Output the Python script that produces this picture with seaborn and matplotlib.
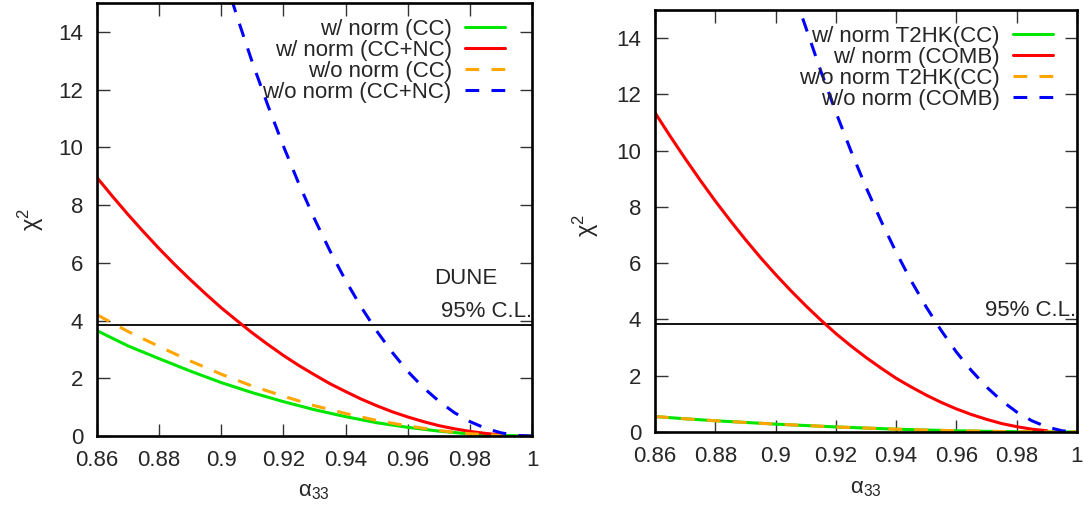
import numpy as np
import pandas as pd
import matplotlib
matplotlib.use("Agg")
import matplotlib.pyplot as plt
import seaborn as sns
from matplotlib.ticker import FuncFormatter
import matplotlib.transforms as mtransforms

# ---------------- data ----------------
alpha = [0.86, 0.87, 0.88, 0.89, 0.90, 0.91, 0.92, 0.93, 0.94, 0.95, 0.96, 0.97, 0.98, 0.99, 1.00]
alpha_fine = [0.86, 0.865, 0.87, 0.875, 0.88, 0.885, 0.89, 0.895, 0.90, 0.905, 0.91, 0.915,
              0.92, 0.925, 0.93, 0.935, 0.94, 0.945, 0.95, 0.955, 0.96, 0.965, 0.97, 0.975,
              0.98, 0.985, 0.99, 0.995, 1.00]

# Left panel (DUNE)
dune_wnorm_cc = [3.65, 3.12, 2.68, 2.25, 1.85, 1.50, 1.19, 0.91, 0.67, 0.46, 0.30, 0.17, 0.07, 0.02, 0.0]
dune_wnorm_ccnc = [8.95, 8.30, 7.67, 7.07, 6.49, 5.94, 5.42, 4.92, 4.44, 4.00, 3.57, 3.17,
                   2.79, 2.44, 2.12, 1.81, 1.54, 1.28, 1.05, 0.84, 0.66, 0.50, 0.36, 0.25,
                   0.16, 0.09, 0.04]
dune_wonorm_cc = [4.20, 3.62, 3.10, 2.60, 2.14, 1.73, 1.38, 1.05, 0.78, 0.54, 0.35, 0.19, 0.08, 0.02, 0.0]
alpha_blue_left = [0.90, 0.905, 0.91, 0.915, 0.92, 0.925, 0.93, 0.935, 0.94, 0.945, 0.95,
                   0.955, 0.96, 0.965, 0.97, 0.975, 0.98, 0.985, 0.99, 0.995, 1.00]
dune_wonorm_ccnc = [16.3, 14.55, 12.94, 11.45, 10.04, 8.73, 7.52, 6.41, 5.39, 4.47, 3.64,
                    2.90, 2.24, 1.68, 1.21, 0.81, 0.50, 0.27, 0.11, 0.02, 0.0]

# Right panel (combined)
t2hk_wnorm_cc = [0.55, 0.47, 0.40, 0.34, 0.28, 0.23, 0.18, 0.14, 0.10, 0.07, 0.045, 0.025, 0.01, 0.003, 0.0]
comb_wnorm = [11.35, 10.52, 9.72, 8.95, 8.21, 7.51, 6.84, 6.20, 5.60, 5.03, 4.49, 3.98,
              3.50, 3.06, 2.65, 2.27, 1.91, 1.60, 1.31, 1.05, 0.82, 0.62, 0.45, 0.30,
              0.19, 0.10, 0.045]
t2hk_wonorm_cc = [0.55, 0.47, 0.40, 0.34, 0.28, 0.23, 0.18, 0.14, 0.10, 0.07, 0.045, 0.025, 0.01, 0.003, 0.0]
alpha_blue_right = [0.909, 0.91, 0.915, 0.92, 0.925, 0.93, 0.935, 0.94, 0.945, 0.95, 0.955,
                    0.96, 0.965, 0.97, 0.975, 0.98, 0.985, 0.99, 0.995, 1.00]
comb_wonorm = [14.7, 14.39, 12.83, 11.37, 9.99, 8.70, 7.50, 6.39, 5.37, 4.44, 3.60,
               2.84, 2.18, 1.60, 1.11, 0.71, 0.40, 0.18, 0.044, 0.0]

cl95 = 3.84

left_labels = ["w/ norm (CC)", "w/ norm (CC+NC)", "w/o norm (CC)", "w/o norm (CC+NC)"]
right_labels = ["w/ norm T2HK(CC)", "w/ norm (COMB)", "w/o norm T2HK(CC)", "w/o norm (COMB)"]
xticks = [0.86, 0.88, 0.90, 0.92, 0.94, 0.96, 0.98, 1.00]
yticks = [0, 2, 4, 6, 8, 10, 12, 14]

# ---------------- style ----------------
sns.set_style("ticks")
plt.rcParams["font.family"] = ["Liberation Sans", "DejaVu Sans"]
plt.rcParams["mathtext.fontset"] = "custom"
plt.rcParams["mathtext.rm"] = "Liberation Sans"
plt.rcParams["mathtext.it"] = "Liberation Sans:italic"
plt.rcParams["mathtext.default"] = "regular"

FS = 16
GREEN, RED, ORANGE, BLUE = "#00e600", "#ff0000", "#ffa500", "#0000ff"
LW = 2.2
DASH = (0, (4.5, 4.0))

fig = plt.figure(figsize=(10.83, 5.08), dpi=100)
axL = fig.add_axes([97 / 1083, 1 - 436 / 508, 435 / 1083, 433 / 508])
axR = fig.add_axes([655 / 1083, 1 - 432 / 508, 422 / 1083, 422 / 508])


def draw(ax, series, labels, legend_anchor):
    for (x, y, c, ls), lab in zip(series, labels):
        n = len(y)
        sns.lineplot(x=x[:n], y=y, ax=ax, color=c, lw=LW, linestyle=ls,
                     label=lab, errorbar=None, sort=False)
    ax.axhline(cl95, color="black", lw=1.3, zorder=1)
    ax.set_xlim(0.86, 1.0)
    ax.set_ylim(0, 15)
    ax.set_xticks(xticks)
    ax.set_yticks(yticks)
    ax.xaxis.set_major_formatter(FuncFormatter(lambda v, _: f"{round(v, 2):g}"))
    ax.tick_params(direction="in", length=9, width=1, top=True, right=True,
                   labelsize=FS, pad=10, color="#333333")
    for s in ax.spines.values():
        s.set_linewidth(1.9)
        s.set_color("black")
    ax.set_xlabel("α$_{33}$", fontsize=FS)
    ax.set_ylabel(r"$\chi^{2}$", fontsize=FS + 1)
    leg = ax.legend(loc="upper right", bbox_to_anchor=legend_anchor, frameon=False,
                    markerfirst=False, fontsize=FS, handlelength=1.8,
                    handletextpad=0.6, labelspacing=0.0, borderaxespad=0.0,
                    borderpad=0.0)
    return leg


draw(axL,
     [(alpha, dune_wnorm_cc, GREEN, "-"),
      (alpha_fine, dune_wnorm_ccnc, RED, "-"),
      (alpha, dune_wonorm_cc, ORANGE, DASH),
      (alpha_blue_left, dune_wonorm_ccnc, BLUE, DASH)],
     left_labels, (0.938, 0.963))

draw(axR,
     [(alpha, t2hk_wnorm_cc, GREEN, "-"),
      (alpha_fine, comb_wnorm, RED, "-"),
      (alpha, t2hk_wonorm_cc, ORANGE, DASH),
      (alpha_blue_right, comb_wonorm, BLUE, DASH)],
     right_labels, (0.943, 0.962))

axL.xaxis.set_label_coords(0.499, -0.128)
axL.yaxis.set_label_coords(-0.152, 0.5)
axR.xaxis.set_label_coords(0.5, -0.133)
axR.yaxis.set_label_coords(-0.163, 0.49)
for ax in (axL, axR):
    ax.xaxis.label.set_verticalalignment("center")
    ax.yaxis.label.set_verticalalignment("center")

# annotations
trL = mtransforms.blended_transform_factory(axL.transAxes, axL.transData)
axL.text(0.9685, 5.45, "DUNE", fontsize=FS, ha="left", va="center")
axL.text(1.0, 3.96, "95% C.L.", fontsize=FS, ha="right", va="bottom", transform=trL)
trR = mtransforms.blended_transform_factory(axR.transAxes, axR.transData)
axR.text(0.997, 3.96, "95% C.L.", fontsize=FS, ha="right", va="bottom", transform=trR)

fig.savefig("out.png", dpi=100)
